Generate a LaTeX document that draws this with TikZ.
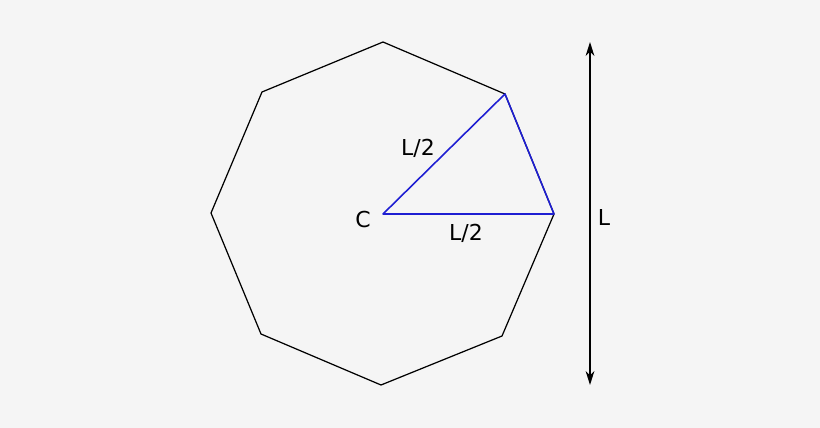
\documentclass[tikz,border=0pt]{standalone}
\usepackage{fontspec}
\setmainfont{DejaVu Sans}
\usetikzlibrary{calc}
\usetikzlibrary{arrows.meta}
\definecolor{bg}{HTML}{F5F5F5}
\definecolor{tri}{RGB}{30,30,210}
\tikzset{lbl/.style={font=\fontsize{12.5}{14}\selectfont, inner sep=1pt}}
\begin{document}
\begin{tikzpicture}[x=0.02cm, y=-0.02cm]
\fill[bg] (0,0) rectangle (820,428);
\coordinate (C) at (383,214);
\coordinate (v1) at (383,42);
\coordinate (v2) at (505,94);
\coordinate (v3) at (554,214);
\coordinate (v4) at (502,336);
\coordinate (v5) at (381,385);
\coordinate (v6) at (261,334);
\coordinate (v7) at (211,213);
\coordinate (v8) at (262,92);
\draw[black, line width=0.7pt] (v1)--(v2)--(v3)--(v4)--(v5)--(v6)--(v7)--(v8)--cycle;
\draw[tri, line width=0.9pt, line join=round] (C)--(v2)--(v3)--cycle;
\coordinate (top) at (590,42);
\coordinate (bot) at (590,385);
\draw[black, line width=0.8pt, {Stealth[length=8pt,width=5pt]}-{Stealth[length=8pt,width=5pt]}] (top)--(bot);
\node[lbl] (lC) at (363,220) {C};
\node[lbl] (lr) at (418,148) {L/2};
\node[lbl] (lb) at (466,233) {L/2};
\node[lbl] (lL) at (604,217) {L};
\end{tikzpicture}
\end{document}
